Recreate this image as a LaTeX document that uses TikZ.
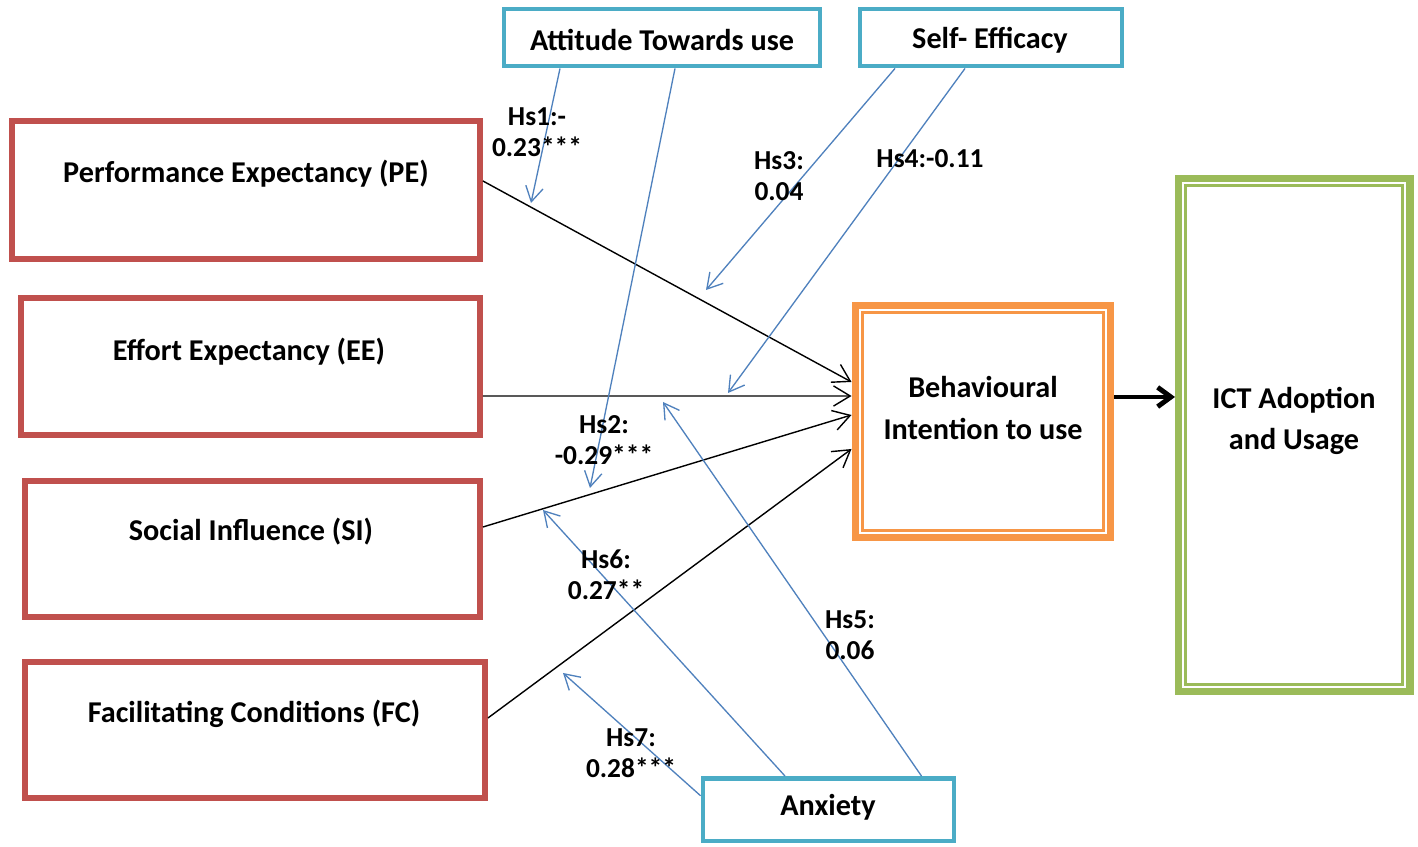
\documentclass[tikz,border=0pt]{standalone}
\usepackage{fontspec}
\setmainfont{Carlito}
\usetikzlibrary{arrows.meta,calc}
\definecolor{cred}{HTML}{C0504D}
\definecolor{cblue}{HTML}{4BACC6}
\definecolor{corange}{HTML}{F79646}
\definecolor{cgreen}{HTML}{9BBB59}
\definecolor{carrow}{HTML}{4F81BD}
\begin{document}
\begin{tikzpicture}[x=0.02cm,y=-0.02cm,
  redbox/.style={draw=cred,line width=3.4pt,inner sep=0pt},
  bluebox/.style={draw=cblue,line width=2.8pt,inner sep=0pt},
  boxtext/.style={font=\bfseries\fontsize{17.2}{23.8}\selectfont,align=center,inner sep=0pt},
  lbl/.style={font=\bfseries\fontsize{15.6}{17.6}\selectfont,align=center,inner sep=0pt},
  blk/.style={draw=black,line width=0.8pt,-{Straight Barb[length=9.5pt,width=11.5pt]}},
  blu/.style={draw=carrow,line width=0.75pt,-{Straight Barb[length=8.5pt,width=10pt]}}]
\useasboundingbox (0,0) rectangle (1418,847);
\fill[white] (0,0) rectangle (1418,847);

% construct boxes
\node[redbox,minimum width=9.36cm,minimum height=2.76cm] (pe) at (246,190) {};
\node[redbox,minimum width=9.18cm,minimum height=2.74cm] (ee) at (250.5,366.5) {};
\node[redbox,minimum width=9.10cm,minimum height=2.72cm] (si) at (252.5,549) {};
\node[redbox,minimum width=9.20cm,minimum height=2.72cm] (fc) at (255,730) {};
\node[boxtext] (pet) at (246,174) {Performance Expectancy (PE)};
\node[boxtext] (eet) at (249,352) {Effort Expectancy (EE)};
\node[boxtext] (sit) at (251,532) {Social Influence (SI)};
\node[boxtext] (fct) at (254,714) {Facilitating Conditions (FC)};

% moderators
\node[bluebox,minimum width=6.32cm,minimum height=1.14cm] (att) at (662,37.5) {};
\node[bluebox,minimum width=5.24cm,minimum height=1.14cm] (sef) at (991,37.5) {};
\node[bluebox,minimum width=5.02cm,minimum height=1.25cm] (anx) at (828.5,809.75) {};
\node[boxtext] (attt) at (662,40) {Attitude Towards use};
\node[boxtext] (seft) at (990,40) {Self- Efficacy};
\node[boxtext] (anxt) at (828,807) {Anxiety};

% behavioural intention
\node[draw=corange,line width=4pt,inner sep=0pt,minimum width=5.12cm,minimum height=4.66cm] (bi) at (983,421.5) {};
\node[draw=corange,line width=1.7pt,inner sep=0pt,minimum width=4.84cm,minimum height=4.38cm] (bii) at (983,421.5) {};
\node[boxtext] (bit) at (983,408) {Behavioural\\Intention to use};

% ICT adoption
\node[draw=cgreen,line width=4pt,inner sep=0pt,minimum width=4.63cm,minimum height=10.27cm] (ict) at (1294.25,435.25) {};
\node[draw=cgreen,line width=1.7pt,inner sep=0pt,minimum width=4.35cm,minimum height=9.99cm] (icti) at (1294.25,435.25) {};
\node[boxtext] (ictt) at (1294,421) {ICT Adoption\\and Usage};

% black paths
\draw[blk] ($(pe.east)+(0,-9)$) -- ($(bi.west)+(0,-39.5)$);
\draw[blk] ($(ee.east)+(0,29.5)$) -- ($(bi.west)+(0,-25.5)$);
\draw[blk] ($(si.east)+(0,-22)$) -- ($(bi.west)+(0,-6.5)$);
\draw[blk] ($(fc.east)+(0,-12)$) -- ($(bi.west)+(0,27.5)$);
\draw[line width=2.8pt,-{Straight Barb[length=7.5pt,width=11pt]}] ($(bi.east)+(0,-24.5)$) -- ($(ict.west)+(0,-38.25)$);

% moderating arrows
\coordinate (h1e) at (531,203);
\coordinate (h2e) at (590,488);
\coordinate (h3e) at (706,290);
\coordinate (h4e) at (728,393);
\coordinate (h5e) at (663,402);
\coordinate (h6e) at (543,510);
\coordinate (h7e) at (563,673);
\draw[blu] ($(att.south)+(-102,0)$) -- (h1e);
\draw[blu] ($(att.south)+(13,0)$) -- (h2e);
\draw[blu] ($(sef.south)+(-96,0)$) -- (h3e);
\draw[blu] ($(sef.south)+(-26,0)$) -- (h4e);
\draw[blu] ($(anx.north)+(93,0)$) -- (h5e);
\draw[blu] ($(anx.north)+(-43.5,0)$) -- (h6e);
\draw[blu] ($(anx.west)+(0,-14)$) -- (h7e);

% labels
\node[lbl] (l1) at (537,132) {Hs1:-\\0.23***};
\node[lbl] (l2) at (604,440) {Hs2:\\-0.29***};
\node[lbl] (l3) at (779,176) {Hs3:\\0.04};
\node[lbl] (l4) at (930,159) {Hs4:-0.11};
\node[lbl] (l5) at (850,635) {Hs5:\\0.06};
\node[lbl] (l6) at (606,575) {Hs6:\\0.27**};
\node[lbl] (l7) at (631,753) {Hs7:\\0.28***};
\end{tikzpicture}
\end{document}
